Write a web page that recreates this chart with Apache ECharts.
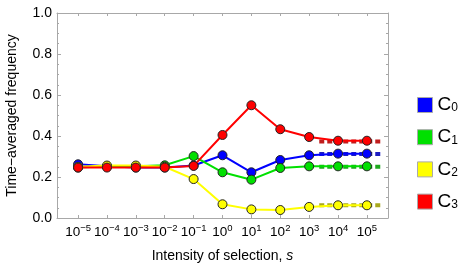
<!DOCTYPE html>
<html>
<head>
<meta charset="utf-8">
<script src="https://cdn.jsdelivr.net/npm/echarts@6/dist/echarts.min.js"></script>
<style>
  html, body { margin: 0; padding: 0; background: #fff; }
  #chart { width: 459px; height: 272px; }
</style>
</head>
<body>
<div id="chart"></div>
<script>
// log10 of the selection intensity s
var exponents = [-5, -4, -3, -2, -1, 0, 1, 2, 3, 4, 5]
var names = ['C0', 'C1', 'C2', 'C3']
// time-averaged frequency of each type
var c0 = [0.262, 0.252, 0.246, 0.246, 0.256, 0.306, 0.223, 0.283, 0.306, 0.314, 0.314]
var c1 = [0.246, 0.252, 0.252, 0.257, 0.302, 0.223, 0.187, 0.244, 0.252, 0.252, 0.252]
var c2 = [0.250, 0.256, 0.256, 0.250, 0.190, 0.067, 0.042, 0.039, 0.054, 0.062, 0.062]
var c3 = [0.246, 0.246, 0.246, 0.246, 0.254, 0.405, 0.550, 0.433, 0.395, 0.377, 0.377]
// large-s limit (dashed)
var limitRange = [3.35, 5.55]
var limits = [0.312, 0.250, 0.062, 0.373]

var colors = ['#0000ff', '#00e000', '#ffff00', '#ff0000']
var darkColors = ['#1c1cc0', '#1ca81c', '#a8a81c', '#c01c1c']

function pairs(vals) {
  return exponents.map(function (e, i) { return [e, vals[i]] })
}

var series = [];
[c0, c1, c2, c3].forEach(function (vals, i) {
  series.push({
    name: names[i],
    type: 'line',
    data: pairs(vals),
    symbol: 'circle',
    symbolSize: 9,
    z: 3 + i,
    lineStyle: { color: colors[i], width: 2 },
    itemStyle: { color: colors[i], borderColor: '#222', borderWidth: 1 },
    emphasis: { disabled: true }
  })
})
limits.forEach(function (v, i) {
  series.push({
    name: names[i] + ' limit',
    type: 'line',
    data: [[limitRange[0], v], [limitRange[1], v]],
    symbol: 'none',
    z: 2,
    lineStyle: { color: darkColors[i], width: 4, type: [5, 3] },
    emphasis: { disabled: true }
  })
})

var frame = { show: true, onZero: false, lineStyle: { color: '#a8a8a8', width: 1 } }
var tickStyle = { color: '#a8a8a8' }

var chart = echarts.init(document.getElementById('chart'))
chart.setOption({
  animation: false,
  textStyle: { fontFamily: 'Liberation Sans, Arial, sans-serif' },
  grid: { left: 57, top: 13, width: 331, height: 205, containLabel: false, outerBoundsMode: 'none' },
  legend: {
    data: names.map(function (n) {
      return { name: n, itemStyle: { color: colors[names.indexOf(n)], borderColor: '#aaa', borderWidth: 1 } }
    }),
    orient: 'vertical',
    left: 412,
    top: 90,
    itemWidth: 15,
    itemHeight: 15,
    itemGap: 12.7,
    icon: 'rect',
    selectedMode: false,
    formatter: function (n) { return '{c|C}{s|' + n.slice(1) + '}' },
    textStyle: {
      padding: [0, 0, 0, 0],
      rich: {
        c: { fontSize: 19, color: '#000', lineHeight: 18, verticalAlign: 'middle' },
        s: { fontSize: 12, color: '#000', lineHeight: 18, verticalAlign: 'bottom', padding: [7, 0, 0, 0] }
      }
    }
  },
  xAxis: [{
    type: 'value',
    min: -5.73,
    max: 5.73,
    name: 'Intensity of selection, {i|s}',
    nameLocation: 'middle',
    nameGap: 31,
    nameTextStyle: { fontSize: 14, color: '#000', rich: { i: { fontSize: 14, fontStyle: 'italic', color: '#000' } } },
    axisLine: frame,
    splitLine: { show: false },
    axisTick: { inside: true, length: 3, lineStyle: tickStyle, customValues: exponents },
    axisLabel: {
      customValues: exponents,
      margin: 5,
      formatter: function (v) { return '{b|10}{p|' + (v < 0 ? '\u2212' + (-v) : v) + '}' },
      rich: {
        b: { fontSize: 13.5, color: '#000', lineHeight: 16, verticalAlign: 'bottom' },
        p: { fontSize: 9.5, color: '#000', lineHeight: 16, verticalAlign: 'top' }
      }
    }
  }, {
    type: 'value',
    position: 'top',
    min: -5.73,
    max: 5.73,
    axisLine: frame,
    splitLine: { show: false },
    axisTick: { inside: true, length: 3, lineStyle: tickStyle, customValues: exponents },
    axisLabel: { show: false }
  }],
  yAxis: [{
    type: 'value',
    min: 0,
    max: 1,
    interval: 0.2,
    name: 'Time\u2212averaged frequency',
    nameLocation: 'middle',
    nameGap: 38,
    nameTextStyle: { fontSize: 14, color: '#000' },
    axisLine: frame,
    splitLine: { show: false },
    axisTick: { inside: true, length: 4, lineStyle: tickStyle },
    minorTick: { show: true, splitNumber: 4, length: 2, lineStyle: tickStyle },
    axisLabel: { fontSize: 14, color: '#000', margin: 5, formatter: function (v) { return v.toFixed(1) } }
  }, {
    type: 'value',
    position: 'right',
    min: 0,
    max: 1,
    interval: 0.2,
    axisLine: frame,
    splitLine: { show: false },
    axisTick: { inside: true, length: 4, lineStyle: tickStyle },
    minorTick: { show: true, splitNumber: 4, length: 2, lineStyle: tickStyle },
    axisLabel: { show: false }
  }],
  series: series
})
</script>
</body>
</html>
